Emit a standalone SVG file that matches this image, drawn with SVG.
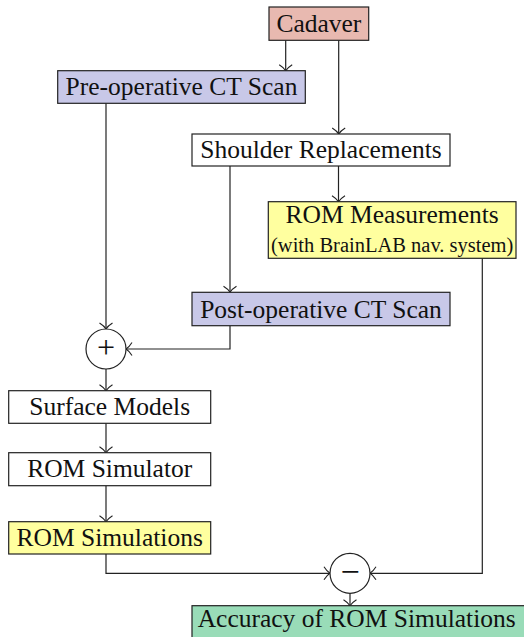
<svg xmlns="http://www.w3.org/2000/svg" width="524" height="637" viewBox="0 0 524 637">
<style>
.box{stroke:#222;stroke-width:1.2}
.t{font-family:"Liberation Serif","Times New Roman",serif;font-size:25.5px;fill:#111;text-anchor:middle}
.s{font-size:20.5px}
.c{fill:none;stroke:#222;stroke-width:1.2}
.op{fill:#fff;stroke:#222;stroke-width:1.2}
</style>
<defs>
<marker id="arr" markerUnits="userSpaceOnUse" markerWidth="16" markerHeight="18" viewBox="-8 -9 10 18" refX="0" refY="0" orient="auto" overflow="visible">
<path d="M-6,-6.5 C-3.5,-2.5 -1,-0.6 0,0 C-1,0.6 -3.5,2.5 -6,6.5" fill="none" stroke="#222" stroke-width="1.1"/>
</marker>
</defs>
<rect width="524" height="637" fill="#fff"/>
<g id="connectors" class="c" marker-end="url(#arr)">
<path d="M285.7,40.3 V70.7"/>
<path d="M338.7,40.3 V134"/>
<path d="M106,103.3 V329"/>
<path d="M230,166 V292.3"/>
<path d="M338.5,166 V201.7"/>
<path d="M230,325.7 V349 H126"/>
<path d="M106,369 V390.7"/>
<path d="M106,423.3 V452.7"/>
<path d="M106,485.7 V521.7"/>
<path d="M106,554 V573.3 H330"/>
<path d="M482.3,258.3 V573.3 H370"/>
<path d="M350,593.3 V605.7"/>
</g>
<g id="cadaver"><rect class="box" x="269" y="7" width="99.7" height="33.3" fill="#e8b9b0"/><text class="t" x="318.9" y="32">Cadaver</text></g>
<g id="preop"><rect class="box" x="57.7" y="70.7" width="247.6" height="32.6" fill="#c8c8e8"/><text class="t" x="181.5" y="95.3">Pre-operative CT Scan</text></g>
<g id="shoulder"><rect class="box" x="192" y="134" width="258" height="32" fill="#fff"/><text class="t" x="321" y="158">Shoulder Replacements</text></g>
<g id="rommeas"><rect class="box" x="268.3" y="201.7" width="247.7" height="56.6" fill="#ffff9f"/><text class="t" x="392.2" y="223">ROM Measurements</text><text class="t s" x="392.2" y="251.5">(with BrainLAB nav. system)</text></g>
<g id="postop"><rect class="box" x="192" y="292.3" width="258" height="33.4" fill="#c8c8e8"/><text class="t" x="321" y="317.5">Post-operative CT Scan</text></g>
<g id="plus"><circle class="op" cx="106" cy="349" r="20"/><text class="t" x="106" y="358" style="font-size:32px">+</text></g>
<g id="surface"><rect class="box" x="8.7" y="390.7" width="202" height="32.6" fill="#fff"/><text class="t" x="109.7" y="415.3">Surface Models</text></g>
<g id="simulator"><rect class="box" x="8.7" y="452.7" width="202" height="33" fill="#fff"/><text class="t" x="109.7" y="477">ROM Simulator</text></g>
<g id="simulations"><rect class="box" x="8.7" y="521.7" width="202" height="32.3" fill="#ffff9f"/><text class="t" x="109.7" y="545.8">ROM Simulations</text></g>
<g id="minus"><circle class="op" cx="350" cy="573.3" r="20"/><text class="t" x="350" y="582.5" style="font-size:34px">−</text></g>
<g id="accuracy"><rect class="box" x="192" y="605.7" width="335" height="34" fill="#99dcb8"/><text class="t" x="356.7" y="627">Accuracy of ROM Simulations</text></g>
</svg>
